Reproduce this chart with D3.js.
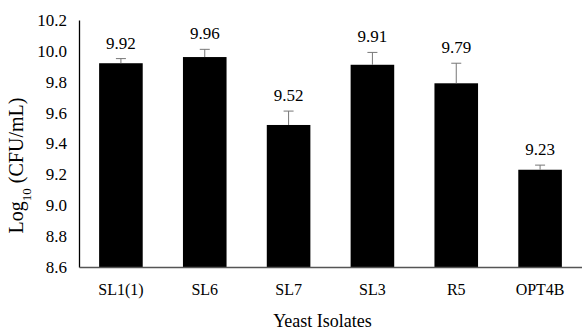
<!DOCTYPE html>
<html lang="en">
<head>
    <meta charset="UTF-8">
    <title>Yeast Isolates</title>
    <script src="https://d3js.org/d3.v7.min.js"></script>
    <style>
        body { margin: 0; background: #fff; }
        svg text { font-family: "Times New Roman", "Liberation Serif", "DejaVu Serif", serif !important; fill: #000; }
    </style>
</head>
<body>
    <svg id="chart" width="582" height="331"></svg>
    <script>
        // Data
        const isolates = ["SL1(1)", "SL6", "SL7", "SL3", "R5", "OPT4B"];
        const means = [9.92, 9.96, 9.52, 9.91, 9.79, 9.23];
        const errors = [0.03, 0.05, 0.09, 0.08, 0.13, 0.03];
        const yTicks = [8.6, 8.8, 9.0, 9.2, 9.4, 9.6, 9.8, 10.0, 10.2];

        const serif = "'Times New Roman', 'Liberation Serif', 'DejaVu Serif', serif";

        const margin = { top: 20, right: 0, bottom: 64, left: 79 };
        const width = 582 - margin.left - margin.right;
        const height = 331 - margin.top - margin.bottom;

        const svg = d3.select("#chart")
            .append("g")
            .attr("transform", `translate(${margin.left},${margin.top})`);

        const x = d3.scaleBand()
            .domain(isolates)
            .range([0, width])
            .paddingInner(0.48)
            .paddingOuter(0.24);

        const y = d3.scaleLinear()
            .domain([8.6, 10.2])
            .range([height, 0]);

        // bars
        svg.selectAll(".bar")
            .data(isolates)
            .enter().append("rect")
            .attr("class", "bar")
            .attr("x", d => x(d))
            .attr("width", x.bandwidth())
            .attr("y", (d, i) => y(means[i]))
            .attr("height", (d, i) => height - y(means[i]))
            .attr("fill", "#000");

        // error bars (upper only)
        const cap = 5;
        isolates.forEach((d, i) => {
            const cx = x(d) + x.bandwidth() / 2;
            const top = y(means[i] + errors[i]);
            svg.append("line")
                .attr("x1", cx).attr("x2", cx)
                .attr("y1", y(means[i])).attr("y2", top)
                .attr("stroke", "#777").attr("stroke-width", 1);
            svg.append("line")
                .attr("x1", cx - cap).attr("x2", cx + cap)
                .attr("y1", top).attr("y2", top)
                .attr("stroke", "#777").attr("stroke-width", 1);
            svg.append("text")
                .attr("x", cx)
                .attr("y", top - 10)
                .attr("text-anchor", "middle")
                .attr("font-family", serif)
                .style("font-size", "17px")
                .text(means[i].toFixed(2));
        });

        // y axis
        const yAxis = svg.append("g")
            .call(d3.axisLeft(y).tickValues(yTicks).tickSize(0).tickPadding(12)
                .tickFormat(d3.format(".1f")));
        yAxis.attr("font-family", serif);
        yAxis.select(".domain").attr("stroke", "#000").attr("stroke-width", 1.3);
        yAxis.selectAll("text").style("font-size", "17px");

        // x axis
        const xAxis = svg.append("g")
            .attr("transform", `translate(0,${height})`)
            .call(d3.axisBottom(x).tickSize(0).tickPadding(17));
        xAxis.attr("font-family", serif);
        xAxis.select(".domain").attr("stroke", "#555").attr("stroke-width", 1.3);
        xAxis.selectAll("text").style("font-size", "16px");

        // axis titles
        const yTitle = svg.append("text")
            .attr("transform", `translate(${-56},${height / 2 + 22}) rotate(-90)`)
            .attr("text-anchor", "middle")
            .attr("font-family", serif)
            .style("font-size", "20px");
        yTitle.append("tspan").text("Log");
        yTitle.append("tspan").attr("baseline-shift", "sub").style("font-size", "13px").text("10");
        yTitle.append("tspan").text(" (CFU/mL)");

        svg.append("text")
            .attr("x", width / 2 - 8)
            .attr("y", height + 60)
            .attr("text-anchor", "middle")
            .attr("font-family", serif)
            .style("font-size", "18px")
            .text("Yeast Isolates");
    </script>
</body>
</html>
